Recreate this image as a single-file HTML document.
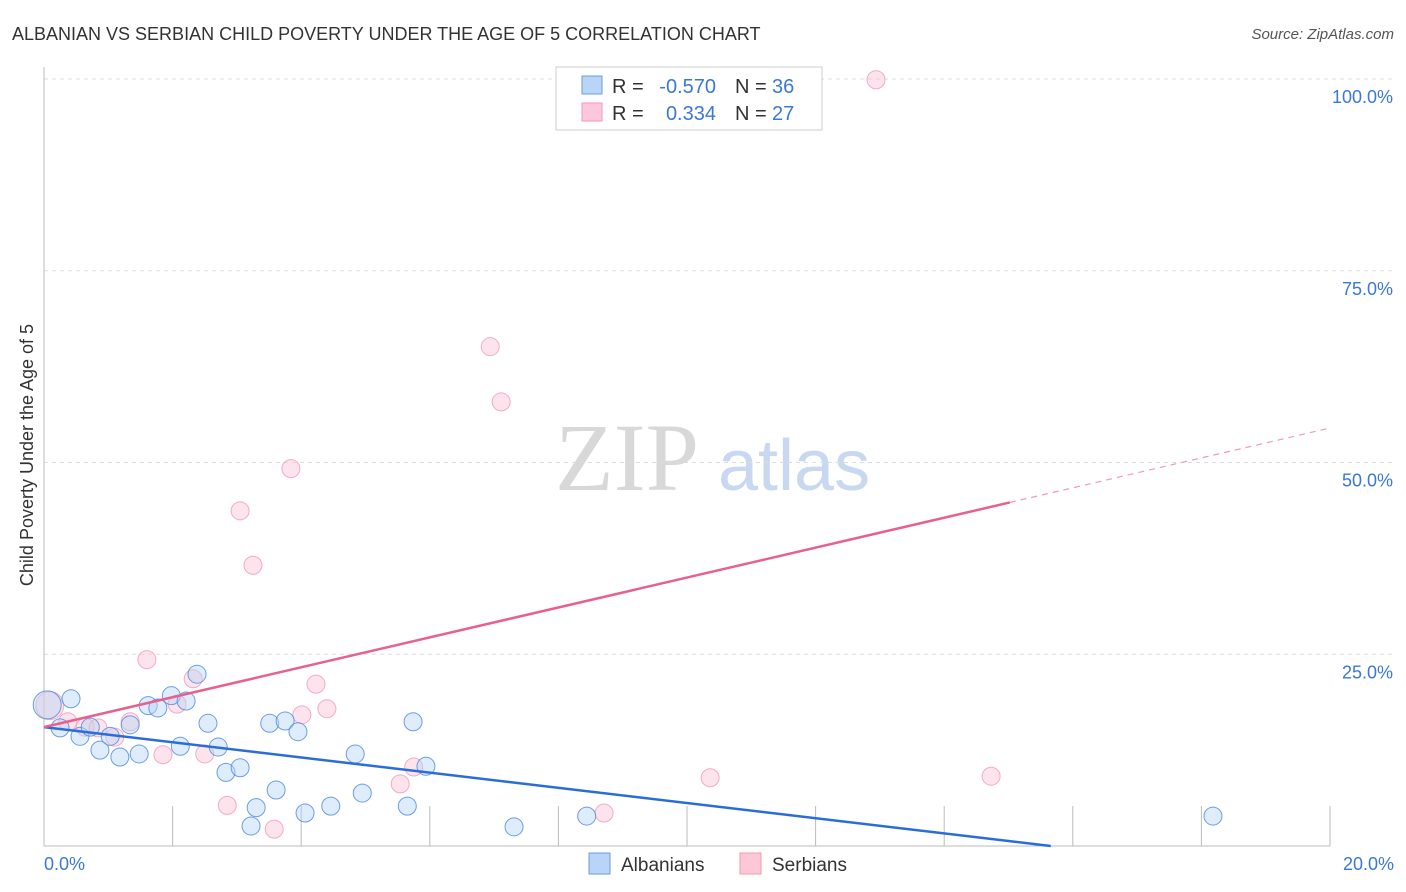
<!DOCTYPE html>
<html><head><meta charset="utf-8"><style>
body{margin:0;background:#fff;font-family:"Liberation Sans",sans-serif;}
svg{display:block}
</style></head><body>
<svg id="c" width="1406" height="892">
<text x="12" y="40" font-size="18" fill="#333">ALBANIAN VS SERBIAN CHILD POVERTY UNDER THE AGE OF 5 CORRELATION CHART</text>
<text x="1394" y="39" font-size="15" fill="#555" font-style="italic" text-anchor="end">Source: ZipAtlas.com</text>
<text x="0" y="0" transform="translate(33,455) rotate(-90)" font-size="18" fill="#333" text-anchor="middle">Child Poverty Under the Age of 5</text>
<g><text x="555" y="490" font-size="96" font-family="Liberation Serif,serif" fill="#d8d8d8">ZIP</text><text x="718" y="490" font-size="72" fill="#c8d8f0">atlas</text></g>
<g id="grid"></g><g id="marks"></g>
<g>
<rect x="556" y="67" width="266" height="63" fill="#fff" stroke="#ccc"/>
<rect x="582" y="76" width="20" height="18" fill="#b8d4f6" stroke="#6b9de0"/>
<rect x="582" y="103" width="20" height="18" fill="#fcc8d8" stroke="#f09ab4"/>
<text x="612" y="93" font-size="20" fill="#333">R =</text>
<text x="716" y="93" font-size="20" fill="#3a78d8" text-anchor="end">-0.570</text>
<text x="735" y="93" font-size="20" fill="#333">N =</text>
<text x="772" y="93" font-size="20" fill="#3a78d8">36</text>
<text x="612" y="120" font-size="20" fill="#333">R =</text>
<text x="716" y="120" font-size="20" fill="#3a78d8" text-anchor="end">0.334</text>
<text x="735" y="120" font-size="20" fill="#333">N =</text>
<text x="772" y="120" font-size="20" fill="#3a78d8">27</text>
</g>
<g>
<rect x="589" y="853" width="21" height="21" fill="#b8d4f6" stroke="#6b9de0"/><text x="621" y="871" font-size="19" fill="#333">Albanians</text>
<rect x="740" y="853" width="21" height="21" fill="#fcc8d8" stroke="#f09ab4"/><text x="772" y="871" font-size="19" fill="#333">Serbians</text>
</g>
</svg>
<script>
const albX=[0.05,0.42,0.25,0.56,0.72,0.87,1.03,1.18,1.34,1.48,1.62,1.77,1.98,2.12,2.21,2.38,2.55,2.71,2.83,3.05,3.30,3.22,3.51,3.61,3.75,3.95,4.06,4.46,4.84,4.95,5.65,5.74,5.94,7.31,8.44,18.18];
const albY=[18.4,19.2,15.4,14.3,15.5,12.5,14.3,11.6,15.8,12.0,18.3,18.0,19.6,13.0,18.9,22.4,16.0,12.9,9.6,10.2,5.0,2.6,16.0,7.3,16.3,14.9,4.3,5.2,12.0,6.9,5.2,16.2,10.4,2.5,3.9,3.9];
const serX=[0.09,0.37,0.64,0.84,1.10,1.34,1.60,1.85,2.07,2.32,2.50,2.85,3.05,3.25,3.58,3.84,4.01,4.23,4.40,5.54,5.75,6.94,7.11,8.71,10.36,12.94,14.73];
const serY=[18.3,16.2,15.5,15.4,14.2,16.2,24.3,11.9,18.5,21.8,12.0,5.3,43.7,36.6,2.2,49.2,17.1,21.1,17.9,8.1,10.3,65.1,57.9,4.3,8.9,99.9,9.1];
const yTicks=[25,50,75,100];
const yTickLabels=["25.0%","50.0%","75.0%","100.0%"];
const xTickLabels=["0.0%","20.0%"];
const albTrend=[15.5,-0.99];
const serTrend=[15.5,1.95];
const NS="http://www.w3.org/2000/svg";
const X=v=>44+v*64.3, Y=v=>846-v*7.67;
function mk(t,a,p){const e=document.createElementNS(NS,t);for(const k in a)e.setAttribute(k,a[k]);p.appendChild(e);return e;}
const g=document.getElementById('grid'), m=document.getElementById('marks');
yTicks.forEach((t,i)=>{
 const l=mk('line',{x1:44,x2:1394,y1:Y(t),y2:Y(t),stroke:'#ddd','stroke-dasharray':'4,4'},g);
 
 
 const tx=mk('text',{x:1393,y:Y(t)+24,'font-size':18,fill:'#3a78d8','text-anchor':'end'},g);tx.textContent=yTickLabels[i];
 
 
});
const ax=mk('line',{x1:44,x2:44,y1:67,y2:846,stroke:'#bbb'},g);


const bx=mk('line',{x1:44,x2:1330,y1:846,y2:846,stroke:'#bbb'},g);


for(let i=1;i<=10;i++){const tk=mk('line',{x1:X(i*2),x2:X(i*2),y1:806,y2:846,stroke:'#bbb'},g);
 
 }
[[0,'start',44],[20,'end',1394]].forEach((d,i)=>{const t=mk('text',{x:d[2],y:870,'font-size':18,fill:'#3a78d8','text-anchor':d[1]},g);t.textContent=xTickLabels[i];
 
 });
function pts(xs,ys,fill,st,name){xs.forEach((x,i)=>{const r=i==0?14:9;const c=mk('circle',{cx:X(x),cy:Y(ys[i]),r:r,fill:fill,'fill-opacity':0.45,stroke:st,'stroke-opacity':0.8,'stroke-width':1},m);
 
 });}
pts(serX,serY,'#fbc4d4','#f09ab4','serbian-point');
pts(albX,albY,'#b8d4f6','#4a88e0','albanian-point');
const bEnd=-albTrend[0]/albTrend[1];
const bl=mk('line',{x1:X(0),y1:Y(albTrend[0]),x2:X(bEnd),y2:Y(0),stroke:'#2a6dd8','stroke-width':2.5},m);


const pl=mk('line',{x1:X(0),y1:Y(serTrend[0]),x2:X(15.02),y2:Y(serTrend[0]+serTrend[1]*15.02),stroke:'#e8608c','stroke-width':2.5},m);


const pd=mk('line',{x1:X(15.02),y1:Y(serTrend[0]+serTrend[1]*15.02),x2:X(20),y2:Y(serTrend[0]+serTrend[1]*20),stroke:'#f09ab4','stroke-width':1.2,'stroke-dasharray':'6,5'},m);


</script>
</body></html>
